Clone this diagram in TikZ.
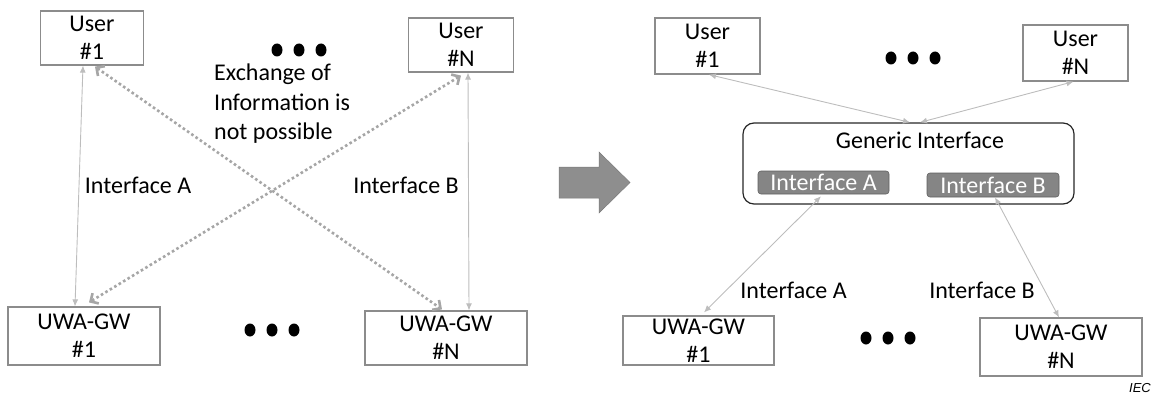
\documentclass[tikz,border=0pt]{standalone}
\usepackage{fontspec}
\setmainfont{Carlito}
\newfontfamily\iecfont{Liberation Sans}
\usetikzlibrary{arrows.meta}
\definecolor{boxgray}{HTML}{8C8C8C}
\definecolor{linegray}{HTML}{BDBDBD}
\definecolor{dotgray}{HTML}{A6A6A6}
\definecolor{ifgray}{HTML}{858585}
\definecolor{ifborder}{HTML}{606060}
\definecolor{bigarrow}{HTML}{8E8E8E}
\tikzset{
  unitbox/.style={draw=boxgray, line width=1.2pt, fill=white, align=center, inner sep=0pt,
    font=\fontsize{24}{28}\selectfont},
  genbox/.style={draw=black!85, line width=1.2pt, rounded corners=11pt, inner sep=0pt},
  ifbox/.style={draw=ifborder, line width=0.6pt, fill=ifgray, rounded corners=3pt, inner sep=0pt,
    text=white, font=\fontsize{24}{28}\selectfont},
  lbl/.style={inner sep=0pt, font=\fontsize{24}{28}\selectfont},
  link/.style={draw=linegray, line width=0.9pt, {Latex[length=7pt,width=6pt]}-{Latex[length=7pt,width=6pt]}},
  nolink/.style={draw=dotgray, line width=2.6pt, dash pattern=on 2.6pt off 2.6pt,
    {Straight Barb[length=6pt,width=12pt]}-{Straight Barb[length=6pt,width=12pt]}},
  bigdot/.style={fill=black, draw=none},
}
\begin{document}
\begin{tikzpicture}[x=1pt,y=-1pt]
\useasboundingbox (0,0) rectangle (1153,396);

% ---------- left diagram ----------
\node[unitbox, minimum width=103pt, minimum height=54pt] (lu1) at (92,38) {User\\\#1};
\node[unitbox, minimum width=105pt, minimum height=54pt] (lun) at (461,45) {User\\\#N};
\node[unitbox, minimum width=152pt, minimum height=58pt] (lg1) at (84,336) {UWA-GW\\\#1};
\node[unitbox, minimum width=162pt, minimum height=54pt] (lgn) at (446,338) {UWA-GW\\\#N};

\foreach \x in {277,299,321} \fill[bigdot] (\x,50) ellipse (5.5pt and 6.5pt);
\foreach \x in {250,272,294} \fill[bigdot] (\x,330) ellipse (5.5pt and 6.5pt);

\node[lbl, anchor=north west, align=left, font=\fontsize{24}{29.5}\selectfont] (exch) at (214,64)
  {Exchange of\\Information is\\not possible};
\node[lbl] (lia) at (138,185) {Interface A};
\node[lbl] (lib) at (406,185) {Interface B};

\draw[link] ([xshift=-9pt]lu1.south) -- ([xshift=-9pt]lg1.north);
\draw[link] ([xshift=7pt]lun.south) -- ([xshift=23pt]lgn.north);
\draw[nolink] ([xshift=3pt,yshift=-1pt]lu1.south) -- ([xshift=-4pt,yshift=1pt]lgn.north);
\draw[nolink] ([yshift=-3pt]lun.south) -- ([xshift=5pt,yshift=4pt]lg1.north);

% ---------- big arrow ----------
\fill[bigarrow, draw=bigarrow!85!black, line width=0.5pt]
  (559,167) -- (599,167) -- (599,152) -- (630,182.5) -- (599,213) -- (599,198) -- (559,198) -- cycle;

% ---------- right diagram ----------
\node[unitbox, minimum width=105pt, minimum height=56pt] (ru1) at (707.5,46) {User\\\#1};
\node[unitbox, minimum width=105pt, minimum height=56pt] (run) at (1075.5,53) {User\\\#N};
\node[genbox, minimum width=331pt, minimum height=81pt] (gen) at (908.5,163.5) {};
\node[lbl] (gent) at (920,140) {Generic Interface};
\node[ifbox, minimum width=131pt, minimum height=23pt] (ia) at (823.5,182.5) {Interface A};
\node[ifbox, minimum width=132pt, minimum height=24pt] (ib) at (993,185) {Interface B};
\node[unitbox, minimum width=151pt, minimum height=49pt] (rg1) at (698.5,340.5) {UWA-GW\\\#1};
\node[unitbox, minimum width=162pt, minimum height=58pt] (rgn) at (1061,347) {UWA-GW\\\#N};

\foreach \x in {891,913,935} \fill[bigdot] (\x,58) ellipse (5.5pt and 6.5pt);
\foreach \x in {866,888,910} \fill[bigdot] (\x,338) ellipse (5.5pt and 6.5pt);

\node[lbl] (ria) at (793.5,290) {Interface A};
\node[lbl] (rib) at (982,290) {Interface B};

\draw[link] ([xshift=1.5pt]ru1.south) -- ([xshift=1.5pt]gen.north);
\draw[link] ([xshift=-2pt]run.south) -- ([xshift=11.5pt]gen.north);
\draw[link] ([xshift=-2.5pt,yshift=-2pt]ia.south) -- ([xshift=5.5pt,yshift=3pt]rg1.north);
\draw[link] ([xshift=2pt]ib.south) -- ([xshift=-2pt]rgn.north);

\node[inner sep=0pt, font=\iecfont\itshape\fontsize{13}{15}\selectfont] (iec) at (1140,388) {IEC};
\end{tikzpicture}
\end{document}
